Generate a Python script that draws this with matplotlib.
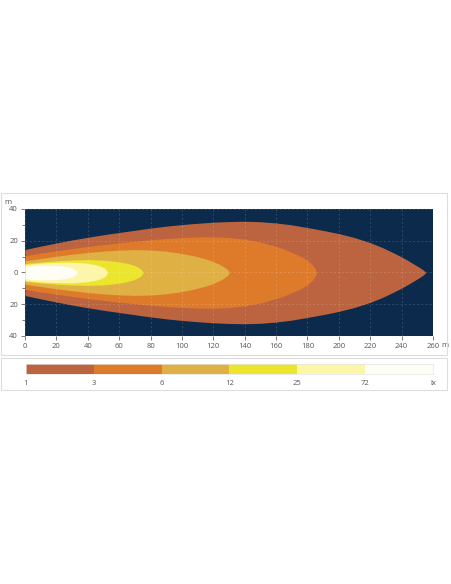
import matplotlib.pyplot as plt
from matplotlib.patches import Rectangle

# iso-lux zones: (distance m, half-width m)
lux_levels = ["1", "3", "6", "12", "25", "72"]
zone_colors = ["#bc643f", "#de7b2b", "#dfb043", "#ece52e", "#fdf6a8", "#fffef6"]

dist_1 = [0, 10, 20, 30, 40, 50, 60, 70, 80, 90, 100, 110, 120, 130, 140, 150, 160,
          170, 180, 190, 200, 210, 220, 228, 235, 240, 245, 249, 252, 254, 255.4]
half_1 = [14.5, 16.6, 18.6, 20.5, 22.2, 23.8, 25.2, 26.6, 28, 29.2, 30.2, 31, 31.7, 32.1,
          32.3, 32, 31.2, 30, 28.3, 26.5, 24.5, 22, 18.8, 15.6, 12.3, 9.8, 7, 4.6,
          2.8, 1.4, 0]

dist_3 = [0, 10, 20, 30, 40, 50, 60, 70, 80, 90, 100, 110, 120, 130, 140, 150, 160,
          165, 169, 173, 177, 181, 183.5, 185, 185.8]
half_3 = [10.5, 12.2, 13.7, 15.1, 16.4, 17.6, 18.7, 19.7, 20.6, 21.4, 22, 22.4, 22.5,
          22.1, 21, 19.2, 16.4, 14.8, 13, 11.4, 9.5, 6.8, 4.5, 2.3, 0]

dist_6 = [0, 10, 20, 30, 40, 50, 60, 70, 80, 90, 100, 108, 115, 120, 124, 127, 129, 130.2]
half_6 = [7.4, 8.8, 10.2, 11.5, 12.6, 13.5, 14.1, 14.4, 14.2, 13.4, 12, 10.4, 8.6, 6.9,
          5.1, 3.4, 1.9, 0]

dist_12 = [0, 10, 20, 30, 40, 50, 58, 64, 68, 71, 73, 74.5, 75.3]
half_12 = [5.6, 6.6, 7.4, 7.9, 8.1, 7.8, 7, 6, 5.0, 3.9, 2.8, 1.5, 0]

dist_25 = [0, 10, 20, 30, 38, 44, 48, 51, 52.8]
half_25 = [5.0, 5.9, 6.4, 6.5, 6.0, 5.1, 4.0, 2.5, 0]

dist_72 = [0, 8, 15, 22, 27, 30, 32, 33.3]
half_72 = [4.0, 4.5, 4.6, 4.3, 3.6, 2.8, 1.7, 0]

zones = [(dist_1, half_1), (dist_3, half_3), (dist_6, half_6),
         (dist_12, half_12), (dist_25, half_25), (dist_72, half_72)]

x_ticks = list(range(0, 261, 20))
y_ticks = [-40, -20, 0, 20, 40]

navy = "#0c2a4b"
text_col = "#555555"
frame_col = "#dddddd"

plt.rcParams['font.family'] = ['Open Sans', 'DejaVu Sans']

fig = plt.figure(figsize=(4.52, 5.84), dpi=100)

# light frames around chart and legend
fig.patches.append(Rectangle((0.002, 1 - 355 / 584), 0.988, (355 - 193) / 584,
                             transform=fig.transFigure, fill=False,
                             edgecolor=frame_col, linewidth=0.8))
fig.patches.append(Rectangle((0.002, 1 - 390 / 584), 0.988, (390 - 358) / 584,
                             transform=fig.transFigure, fill=False,
                             edgecolor=frame_col, linewidth=0.8))

ax = fig.add_axes([25 / 452, 1 - 336 / 584, 408 / 452, 127 / 584])
ax.set_facecolor(navy)
for (d, h), c in zip(zones, zone_colors):
    ax.fill_between(d, [-v for v in h], h, color=c, linewidth=0)

ax.set_xlim(0, 260)
ax.set_ylim(-40, 40)
ax.set_xticks(x_ticks)
ax.set_xticklabels([str(t) for t in x_ticks])
ax.set_yticks(y_ticks)
ax.set_yticklabels([str(abs(t)) for t in y_ticks])
ax.set_yticks([-30, -10, 10, 30], minor=True)
ax.tick_params(axis='both', labelsize=5.5, colors="#666666", labelcolor=text_col,
               length=3, width=0.6, pad=2)
ax.tick_params(axis='y', which='minor', length=2, width=0.6, colors="#666666")
for s in ax.spines.values():
    s.set_visible(False)
ax.grid(True, color="white", alpha=0.2, linestyle=(0, (3, 3)), linewidth=0.5)
ax.set_axisbelow(False)

# unit labels
ax.annotate("m", xy=(1, 0), xycoords='axes fraction', xytext=(6, -4.2),
            textcoords='offset points', fontsize=5.5, color=text_col,
            ha='left', va='top')
ax.annotate("m", xy=(0, 1), xycoords='axes fraction', xytext=(-15, 2),
            textcoords='offset points', fontsize=5.5, color=text_col,
            ha='left', va='bottom')

# lux legend bar
cax = fig.add_axes([26 / 452, 1 - 374 / 584, 407 / 452, 10 / 584])
for i, c in enumerate(zone_colors):
    cax.bar(i, 1, width=1, align='edge', color=c, linewidth=0)
cax.set_xlim(0, len(zone_colors))
cax.set_ylim(0, 1)
cax.set_yticks([])
cax.set_xticks(list(range(len(zone_colors) + 1)))
cax.set_xticklabels(lux_levels + ["lx"])
cax.tick_params(axis='x', length=0, labelsize=5.5, labelcolor=text_col, pad=4)
for s in cax.spines.values():
    s.set_edgecolor("#e4e4e4")
    s.set_linewidth(0.5)

fig.savefig("out.png", dpi=100)
